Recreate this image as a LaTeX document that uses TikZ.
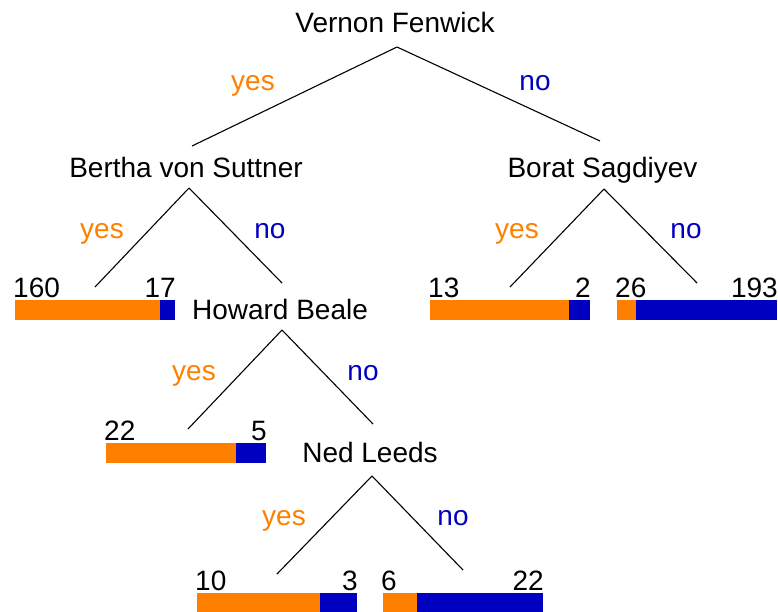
\documentclass[tikz,border=0pt]{standalone}
\usepackage{fontspec}
\setmainfont{Liberation Sans}
\definecolor{yescol}{RGB}{255,128,0}
\definecolor{nocol}{RGB}{0,0,192}
\begin{document}
\begin{tikzpicture}[x=1pt,y=-1pt,
  every node/.style={inner sep=0pt,font=\fontsize{28}{33}\selectfont},
  split/.style={anchor=base,text=black},
  yeslab/.style={anchor=base,text=yescol},
  nolab/.style={anchor=base,text=nocol},
  numl/.style={anchor=base west},
  numr/.style={anchor=base east},
  edge/.style={draw=black,line width=1.1pt}]
\useasboundingbox (0,0) rectangle (778,611);
% split nodes
\node[split] (vf) at (395,32) {Vernon Fenwick};
\node[split] (bs) at (186,177) {Bertha von Suttner};
\node[split] (bo) at (602.5,177) {Borat Sagdiyev};
\node[split] (hb) at (280,319) {Howard Beale};
\node[split] (nl) at (370,462) {Ned Leeds};
% connector points
\coordinate (vfS) at (397,47);
\coordinate (bsN) at (192,146);
\coordinate (boN) at (600,141);
\coordinate (bsS) at (189,188);
\coordinate (l1) at (95,287);
\coordinate (hbN) at (282,283);
\coordinate (boS) at (604,189);
\coordinate (l3) at (510,287);
\coordinate (l4) at (697,283);
\coordinate (hbS) at (282,330);
\coordinate (l2) at (188,429);
\coordinate (nlN) at (373,424);
\coordinate (nlS) at (372,476);
\coordinate (l5) at (277,574);
\coordinate (l6) at (463,570);
% connectors
\draw[edge] (vfS) -- (bsN);
\draw[edge] (vfS) -- (boN);
\draw[edge] (bsS) -- (l1);
\draw[edge] (bsS) -- (hbN);
\draw[edge] (boS) -- (l3);
\draw[edge] (boS) -- (l4);
\draw[edge] (hbS) -- (l2);
\draw[edge] (hbS) -- (nlN);
\draw[edge] (nlS) -- (l5);
\draw[edge] (nlS) -- (l6);
% branch labels
\node[yeslab] (y1) at (253,90) {yes};
\node[nolab] (n1) at (535,90) {no};
\node[yeslab] (y2) at (102,238) {yes};
\node[nolab] (n2) at (270,238) {no};
\node[yeslab] (y3) at (517,238) {yes};
\node[nolab] (n3) at (686,238) {no};
\node[yeslab] (y4) at (194,380) {yes};
\node[nolab] (n4) at (363,380) {no};
\node[yeslab] (y5) at (284,525) {yes};
\node[nolab] (n5) at (453,525) {no};
% bars
\fill[yescol] (15,300) rectangle (160,320);
\fill[nocol] (160,300) rectangle (175,320);
\fill[yescol] (106,443) rectangle (236,463);
\fill[nocol] (236,443) rectangle (266,463);
\fill[yescol] (430,300) rectangle (569,320);
\fill[nocol] (569,300) rectangle (590,320);
\fill[yescol] (617,300) rectangle (636,320);
\fill[nocol] (636,300) rectangle (777,320);
\fill[yescol] (197,593) rectangle (320,613);
\fill[nocol] (320,593) rectangle (357,613);
\fill[yescol] (383,593) rectangle (417,613);
\fill[nocol] (417,593) rectangle (543,613);
% counts
\node[numl] (c1a) at (13,297) {160};
\node[numr] (c1b) at (176,297) {17};
\node[numl] (c2a) at (104,440) {22};
\node[numr] (c2b) at (267,440) {5};
\node[numl] (c3a) at (428,297) {13};
\node[numr] (c3b) at (591,297) {2};
\node[numl] (c4a) at (615,297) {26};
\node[numr] (c4b) at (778,297) {193};
\node[numl] (c5a) at (195,590) {10};
\node[numr] (c5b) at (358,590) {3};
\node[numl] (c6a) at (381,590) {6};
\node[numr] (c6b) at (544,590) {22};
\end{tikzpicture}
\end{document}
